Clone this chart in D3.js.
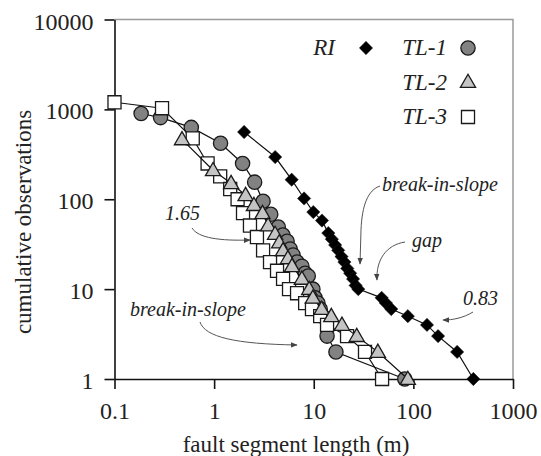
<!DOCTYPE html>
<html>
<head>
  <script src="https://d3js.org/d3.v7.min.js"></script>
  <style>
    body { margin: 0; background: #fff; }
    text { font-family: "Liberation Serif", Tinos, "Times New Roman", Times, serif; fill: #222; }
  </style>
</head>
<body>
  <div id="chart"></div>

  <script>
    // values (length in m, cumulative count)
    var riLength  = [2.0, 4.1, 6.0, 8.0, 9.9, 12.1, 14.0, 15.2, 16.4, 17.6, 19.0, 20.3, 21.7, 23.2, 24.8, 26.3, 28.0, 48, 53, 60, 88, 137, 177, 275, 400];
    var riCount   = [560, 295, 165, 102, 72, 58, 42, 36, 31, 27, 23, 20, 17, 15, 13, 11, 10, 8, 7, 6, 5, 4, 3, 2, 1];

    var tl1Length = [0.185, 0.29, 0.59, 1.16, 1.93, 2.55, 3.1, 3.7, 4.4, 4.9, 5.4, 5.8, 6.2, 6.8, 7.6, 8.2, 8.8, 9.8, 10.3, 11.0, 11.6, 12.3, 13.6, 16.7, 82];
    var tl1Count  = [900, 810, 630, 420, 250, 155, 95, 68, 49, 40, 34, 28, 24, 20, 18, 15, 14, 10, 8, 7, 6, 5, 3, 2, 1];

    var tl2Length = [0.476, 0.975, 1.48, 2.07, 2.51, 3.06, 3.48, 4.09, 4.5, 4.92, 5.5, 6.05, 7.6, 9.0, 9.8, 12.0, 15.0, 19.2, 27.0, 44.0, 88.0];
    var tl2Count  = [464, 210, 151, 111, 86, 70, 51, 41, 33, 27, 22, 18, 13, 10, 8, 6, 5, 4, 3, 2, 1];

    var tl3Length = [0.1, 0.30, 0.61, 0.86, 1.15, 1.45, 1.72, 1.95, 2.29, 2.69, 3.1, 3.64, 4.28, 4.92, 5.65, 6.8, 8.2, 9.6, 11.6, 13.6, 21.6, 32.7, 48.5];
    var tl3Count  = [1200, 1030, 475, 250, 180, 130, 100, 70, 51, 38, 27, 20, 16, 13, 10, 9, 7, 6, 5, 4, 3, 2, 1];

    var xTicks = [0.1, 1, 10, 100, 1000];
    var yTicks = [1, 10, 100, 1000, 10000];

    var width = 541, height = 456;
    var margin = { top: 19.5, right: 28, bottom: 77, left: 114.5 };

    var svg = d3.select('#chart').append('svg')
      .attr('width', width)
      .attr('height', height);

    svg.append('rect').attr('width', width).attr('height', height).attr('fill', '#fff');

    var x = d3.scaleLog().domain([0.1, 1000]).range([margin.left, width - margin.right]);
    var y = d3.scaleLog().domain([1, 10000]).range([height - margin.bottom, margin.top]);

    // frame (top and right in grey)
    svg.append('path')
      .attr('d', 'M' + x(0.1) + ',' + y(10000) + 'H' + x(1000) + 'V' + y(1))
      .attr('fill', 'none')
      .attr('stroke', '#9a9a9a')
      .attr('stroke-width', 1.5);

    var xAxis = svg.append('g')
      .attr('transform', 'translate(0,' + y(1) + ')')
      .call(d3.axisBottom(x).tickValues(xTicks).tickFormat(function(d) { return d; })
        .tickSizeInner(10).tickSizeOuter(0).tickPadding(13));

    var yAxis = svg.append('g')
      .attr('transform', 'translate(' + x(0.1) + ',0)')
      .call(d3.axisLeft(y).tickValues(yTicks).tickFormat(function(d) { return d; })
        .tickSizeInner(10).tickSizeOuter(0).tickPadding(11));

    [xAxis, yAxis].forEach(function(ax) {
      ax.attr('font-family', null);
      ax.select('.domain').attr('stroke', '#111').attr('stroke-width', 1.6);
      ax.selectAll('.tick line').attr('stroke', '#111').attr('stroke-width', 1.6);
      ax.selectAll('.tick text')
        .attr('font-size', 24)
        .attr('fill', '#222');
    });
    yAxis.selectAll('.tick text').attr('dy', '0.4em');

    svg.append('text')
      .attr('x', 296).attr('y', 452)
      .attr('text-anchor', 'middle')
      .attr('font-size', 23)
      .text('fault segment length (m)');

    svg.append('text')
      .attr('transform', 'translate(31,222) rotate(-90)')
      .attr('text-anchor', 'middle')
      .attr('font-size', 23)
      .text('cumulative observations');

    // arrow head for the notes
    svg.append('defs').append('marker')
      .attr('id', 'arrow')
      .attr('viewBox', '0 0 10 10')
      .attr('refX', 9).attr('refY', 5)
      .attr('markerWidth', 7).attr('markerHeight', 7)
      .attr('orient', 'auto')
      .append('path')
      .attr('d', 'M0,1L10,5L0,9Z')
      .attr('fill', '#444');

    var line = d3.line()
      .x(function(d) { return x(d[0]); })
      .y(function(d) { return y(d[1]); });

    var series = [
      { name: 'RI',   len: riLength,  cnt: riCount,  shape: 'diamond',  fill: '#000' },
      { name: 'TL-1', len: tl1Length, cnt: tl1Count, shape: 'circle',   fill: '#828282' },
      { name: 'TL-3', len: tl3Length, cnt: tl3Count, shape: 'square',   fill: '#fff' },
      { name: 'TL-2', len: tl2Length, cnt: tl2Count, shape: 'triangle', fill: '#c4c4c4' }
    ];

    var shapes = {
      diamond:  d3.symbol().type(d3.symbolSquare).size(88),
      circle:   d3.symbol().type(d3.symbolCircle).size(160),
      square:   d3.symbol().type(d3.symbolSquare).size(170),
      triangle: d3.symbol().type(d3.symbolTriangle).size(100)
    };

    function marker(g, s) {
      return g.append('path')
        .attr('d', shapes[s.shape]())
        .attr('fill', s.fill)
        .attr('stroke', '#1a1a1a')
        .attr('stroke-width', s.shape == 'diamond' ? 0.5 : 1.3);
    }

    series.forEach(function(s) {
      var pts = s.len.map(function(l, i) { return [l, s.cnt[i]]; });
      var g = svg.append('g');
      g.append('path')
        .attr('d', line(pts))
        .attr('fill', 'none')
        .attr('stroke', '#111')
        .attr('stroke-width', 1.2);
      pts.forEach(function(p) {
        var m = marker(g, s);
        var t = 'translate(' + x(p[0]) + ',' + y(p[1]) + ')';
        if (s.shape == 'diamond') t += ' rotate(45)';
        if (s.shape == 'triangle') t += ' translate(0,1)';
        m.attr('transform', t);
      });
    });

    // legend
    var legend = [
      { label: 'RI',   tx: 335, mx: 366, my: 48, s: series[0] },
      { label: 'TL-1', tx: 447, mx: 468, my: 48, s: series[1] },
      { label: 'TL-2', tx: 447, mx: 468, my: 83, s: series[3] },
      { label: 'TL-3', tx: 447, mx: 468, my: 117, s: series[2] }
    ];
    legend.forEach(function(d) {
      svg.append('text')
        .attr('x', d.tx).attr('y', d.my + 7)
        .attr('text-anchor', 'end')
        .attr('font-style', 'italic')
        .attr('font-size', 23)
        .text(d.label);
      var t = 'translate(' + d.mx + ',' + d.my + ')';
      if (d.s.shape == 'diamond') t += ' rotate(45)';
      marker(svg, d.s).attr('transform', t);
    });

    // notes
    var notes = [
      { text: 'break-in-slope', x: 382, y: 191, path: 'M380,186C368,190 362,205 361,230L360,264' },
      { text: 'gap',            x: 412, y: 247, path: 'M405,242C386,245 376,260 377,280' },
      { text: '0.83',           x: 463, y: 305, path: 'M473,312C463,318 453,320 443,320' },
      { text: '1.65',           x: 165, y: 220, path: 'M192,228C198,238 220,241 250,240' },
      { text: 'break-in-slope', x: 130, y: 316, path: 'M200,322C205,337 235,344 297,345' }
    ];
    notes.forEach(function(n) {
      svg.append('text')
        .attr('x', n.x).attr('y', n.y)
        .attr('font-style', 'italic')
        .attr('font-size', 20)
        .attr('fill', '#333')
        .text(n.text);
      svg.append('path')
        .attr('d', n.path)
        .attr('fill', 'none')
        .attr('stroke', '#555')
        .attr('stroke-width', 1)
        .attr('marker-end', 'url(#arrow)');
    });
  </script>
</body>
</html>
